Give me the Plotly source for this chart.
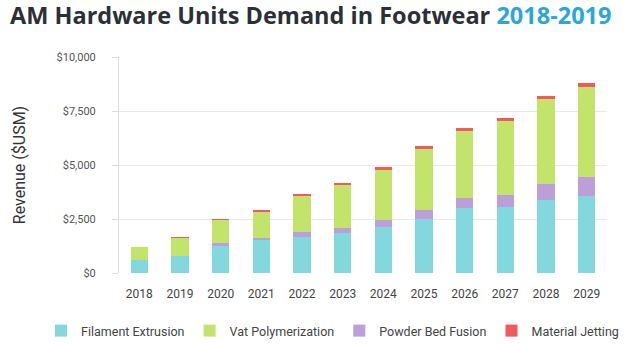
import plotly.graph_objects as go

years = ["2018", "2019", "2020", "2021", "2022", "2023", "2024", "2025", "2026", "2027", "2028", "2029"]
filament_extrusion = [615, 790, 1230, 1510, 1690, 1830, 2145, 2480, 2990, 3040, 3395, 3580]
vat_polymerization = [590, 840, 1085, 1220, 1680, 1990, 2315, 2825, 3100, 3425, 3935, 4200]
powder_bed_fusion = [0, 20, 140, 125, 220, 265, 320, 450, 495, 585, 740, 845]
material_jetting = [0, 15, 30, 30, 35, 45, 105, 140, 140, 140, 140, 185]

series = [
    ("Filament Extrusion", filament_extrusion, "#82d8dc"),
    ("Powder Bed Fusion", powder_bed_fusion, "#bc9fd8"),
    ("Vat Polymerization", vat_polymerization, "#c3e46b"),
    ("Material Jetting", material_jetting, "#f05a5a"),
]
legend_order = {"Filament Extrusion": 1, "Vat Polymerization": 2, "Powder Bed Fusion": 3, "Material Jetting": 4}

fig = go.Figure()
for name, vals, color in series:
    fig.add_trace(go.Bar(
        x=years, y=vals, name=name, marker_color=color,
        marker_line_width=0, width=0.42, legendrank=legend_order[name],
        hovertemplate="%{x}: %{y}<extra>" + name + "</extra>",
    ))

W, H = 636, 344
ML, MR, MT, MB = 119, 29, 57, 71
pw, ph = W - ML - MR, H - MT - MB

font_family = "Roboto, 'Open Sans', sans-serif"
fig.update_layout(
    barmode="stack",
    width=W, height=H,
    margin=dict(l=ML, r=MR, t=MT, b=MB, autoexpand=False),
    paper_bgcolor="white", plot_bgcolor="white",
    font=dict(family=font_family, color="#444", size=12),
    title=dict(
        text="<b>AM Hardware Units Demand in Footwear <span style='color:#2aa6dd'>2018-2019</span></b>",
        x=10 / W, xanchor="left", xref="container",
        y=1 - 16 / H, yanchor="middle", yref="container",
        font=dict(family="'Open Sans', sans-serif", size=23.5, color="#2b3038"),
    ),
    legend=dict(
        orientation="h",
        x=(41 - ML) / pw, xanchor="left", xref="paper",
        y=(H - MB - 331) / ph, yanchor="middle", yref="paper",
        font=dict(size=12.5, color="#444"), traceorder="normal",
        itemwidth=30, tracegroupgap=0,
    ),
    showlegend=True,
)
fig.update_yaxes(
    range=[0, 10000], dtick=2500, tickformat="$,.0f",
    showline=True, linecolor="#dddddd", linewidth=1,
    ticks="outside", ticklen=6, tickcolor="#dddddd",
    gridcolor="#e9e9e9", gridwidth=1, zeroline=False,
    tickfont=dict(size=11, color="#555"), ticklabelstandoff=14,
    title=dict(text="Revenue ($USM)", font=dict(size=16, color="#333"), standoff=26),
)
fig.update_xaxes(
    showline=False, ticks="", tickfont=dict(size=12, color="#444"),
    ticklabelstandoff=12,
)

fig.write_html("out.html")
